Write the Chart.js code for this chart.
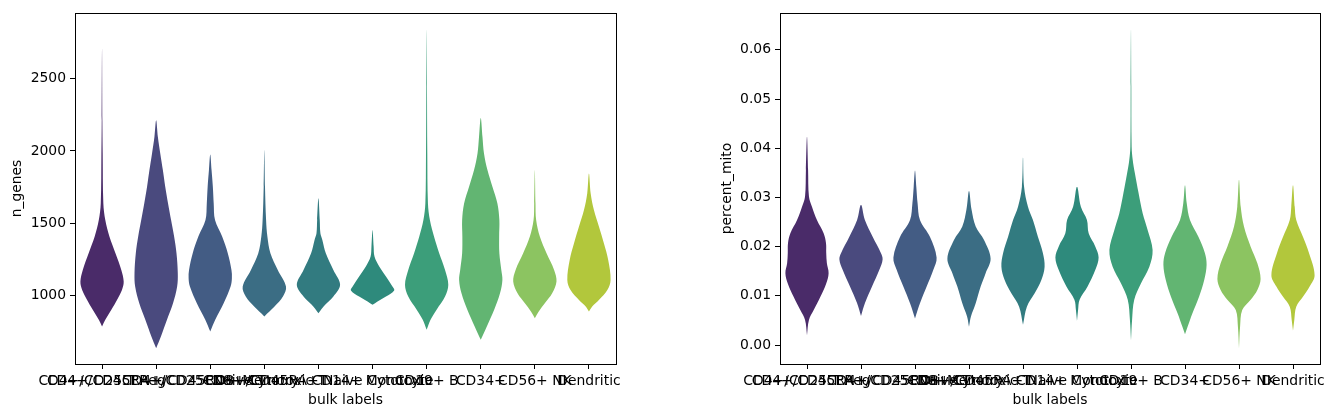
<!DOCTYPE html>
<html lang="en">
<head>
<meta charset="UTF-8">
<title>bulk labels - n_genes / percent_mito</title>
<script src="https://cdn.jsdelivr.net/npm/chart.js"></script>
<style>
  html, body { margin: 0; padding: 0; background: #fff; }
  body { width: 1335px; height: 417px; position: relative; overflow: hidden; }
  .panel { position: absolute; top: 0; height: 417px; }
  #leftPanel { left: 0; width: 640px; }
  #rightPanel { left: 700px; width: 635px; }
</style>
</head>
<body>
<div class="panel" id="leftPanel"><canvas id="genesChart"></canvas></div>
<div class="panel" id="rightPanel"><canvas id="mitoChart"></canvas></div>

<script>
const bulkLabels = [
    "CD4+/CD25 T Reg", "CD4+/CD45RA+/CD25- Naive T", "CD4+/CD45RO+ Memory",
    "CD8+ Cytotoxic T", "CD8+/CD45RA+ Naive Cytotoxic", "CD14+ Monocyte",
    "CD19+ B", "CD34+", "CD56+ NK", "Dendritic"
];
const violinColors = ["#4a2b69", "#4a4a7e", "#435c84", "#3b6d84", "#327b80",
                      "#2e8a7c", "#3c9e7a", "#62b572", "#8cc461", "#b2c73c"];

// n_genes: levels from bottom to top, and relative half-width at each level
const genesLevels = [
    [789, 835, 904, 972, 1041, 1099, 1179, 1294, 1409, 1523, 1638, 1983, 2212, 2706],
    [639, 720, 835, 949, 1064, 1156, 1294, 1409, 1523, 1638, 1753, 1868, 1983, 2097, 2212],
    [755, 835, 949, 1064, 1122, 1179, 1294, 1409, 1523, 1638, 1753, 1868, 1976],
    [858, 926, 995, 1064, 1179, 1294, 1409, 1523, 1753, 2006],
    [881, 938, 995, 1076, 1179, 1294, 1386, 1432, 1523, 1673],
    [938, 961, 995, 1037, 1064, 1133, 1202, 1271, 1340, 1455],
    [766, 835, 904, 995, 1076, 1179, 1294, 1409, 1523, 1638, 1983, 2442, 2837],
    [697, 789, 904, 1018, 1110, 1179, 1294, 1409, 1523, 1638, 1753, 1868, 1983, 2097, 2228],
    [846, 892, 949, 1018, 1099, 1179, 1294, 1409, 1523, 1638, 1868],
    [892, 927, 972, 1041, 1110, 1248, 1363, 1478, 1592, 1707, 1845]
];
const genesWidths = [
    [0, .15, .43, .69, .92, 1, .89, .62, .34, .15, .06, .03, .015, 0],
    [0, .22, .5, .78, .97, 1, .94, .83, .69, .55, .42, .31, .19, .08, 0],
    [0, .23, .62, .94, 1, .98, .81, .55, .22, .16, .12, .06, 0],
    [0, .47, .86, 1, .62, .28, .14, .08, .03, 0],
    [0, .31, .69, 1, .69, .34, .18, .09, .06, 0],
    [0, .23, .62, 1, .92, .62, .31, .09, .05, 0],
    [0, .18, .46, .85, 1, .85, .58, .34, .15, .06, .03, .015, 0],
    [0, .28, .62, .89, 1, .95, .86, .85, .86, .77, .54, .31, .15, .08, 0],
    [0, .18, .46, .8, 1, .89, .54, .23, .06, .03, 0],
    [0, .15, .46, .85, 1, .89, .69, .46, .23, .08, 0]
];

// percent_mito
const mitoLevels = [
    [0.0020, 0.0051, 0.0071, 0.0098, 0.0125, 0.0146, 0.0166, 0.0187, 0.0207, 0.0227, 0.0254, 0.0281, 0.0302, 0.0356, 0.0424],
    [0.0059, 0.0085, 0.0119, 0.0153, 0.0174, 0.0187, 0.0220, 0.0254, 0.0285],
    [0.0054, 0.0085, 0.0119, 0.0153, 0.0178, 0.0220, 0.0254, 0.0288, 0.0322, 0.0355],
    [0.0037, 0.0058, 0.0085, 0.0119, 0.0146, 0.0176, 0.0214, 0.0241, 0.0275, 0.0313],
    [0.0041, 0.0078, 0.0105, 0.0132, 0.0159, 0.0187, 0.0220, 0.0254, 0.0281, 0.0322, 0.0381],
    [0.0049, 0.0071, 0.0092, 0.0119, 0.0153, 0.0178, 0.0200, 0.0227, 0.0254, 0.0281, 0.0322],
    [0.0009, 0.0051, 0.0092, 0.0125, 0.0159, 0.0193, 0.0234, 0.0268, 0.0309, 0.0349, 0.0376, 0.0403, 0.0526, 0.0642],
    [0.0022, 0.0037, 0.0064, 0.0098, 0.0132, 0.0163, 0.0187, 0.0220, 0.0254, 0.0288, 0.0325],
    [-0.0007, 0.0037, 0.0071, 0.0092, 0.0112, 0.0134, 0.0166, 0.0200, 0.0241, 0.0281, 0.0336],
    [0.0029, 0.0051, 0.0078, 0.0098, 0.0119, 0.0142, 0.0187, 0.0220, 0.0254, 0.0281, 0.0325]
];
const mitoWidths = [
    [0, .09, .31, .62, .89, 1, .92, .89, .88, .77, .46, .23, .09, .05, 0],
    [0, .18, .51, .85, 1, .92, .54, .18, 0],
    [0, .23, .54, .85, 1, .69, .23, .12, .06, 0],
    [0, .09, .31, .54, .77, 1, .69, .31, .12, 0],
    [0, .18, .54, .85, 1, .92, .69, .46, .23, .05, 0],
    [0, .05, .12, .49, .85, 1, .85, .54, .46, .18, 0],
    [0, .05, .15, .46, .85, 1, .77, .54, .35, .18, .08, .03, .015, 0],
    [0, .12, .34, .65, .89, 1, .92, .62, .23, .08, 0],
    [0, .05, .15, .54, .85, 1, .85, .54, .23, .08, 0],
    [0, .06, .15, .46, .77, 1, .74, .46, .15, .08, 0]
];

const genesTicks = [1000, 1500, 2000, 2500];
const mitoTicks = [0, 0.01, 0.02, 0.03, 0.04, 0.05, 0.06];

Chart.defaults.font.family = "'DejaVu Sans', sans-serif";
Chart.defaults.font.size = 13.9;
Chart.defaults.color = "#000";

const HALF_WIDTH = 0.4;

// left edge going up, right edge coming back down
function violinOutline(i, levels, widths) {
    const left = levels.map((v, k) => ({ x: i - HALF_WIDTH * widths[k], y: v }));
    const right = levels.map((v, k) => ({ x: i + HALF_WIDTH * widths[k], y: v })).reverse();
    return left.concat(right.slice(1));
}

const axesFrame = {
    id: "axesFrame",
    afterDraw(chart) {
        const { ctx, chartArea: a } = chart;
        ctx.save();
        ctx.strokeStyle = "#000";
        ctx.lineWidth = 1;
        ctx.strokeRect(Math.round(a.left) + 0.5, Math.round(a.top) + 0.5,
                       Math.round(a.right - a.left), Math.round(a.bottom - a.top));
        ctx.restore();
    }
};

function makeViolinChart(canvasId, levels, widths, yTicks, yMin, yMax, yTitle, fmt, yWidth, titlePad, padRight) {
    const datasets = bulkLabels.map((name, i) => ({
        label: name,
        data: violinOutline(i, levels[i], widths[i]),
        backgroundColor: violinColors[i],
        borderColor: violinColors[i],
        borderWidth: 0,
        fill: "shape",
        pointRadius: 0,
        tension: 0.35
    }));

    new Chart(document.getElementById(canvasId), {
        type: "line",
        data: { datasets },
        options: {
            responsive: true,
            maintainAspectRatio: false,
            animation: false,
            layout: { padding: { top: 13, right: padRight, bottom: 0, left: 0 } },
            plugins: { legend: { display: false }, tooltip: { enabled: false } },
            scales: {
                x: {
                    type: "linear",
                    min: -0.5,
                    max: 9.5,
                    afterBuildTicks: s => { s.ticks = bulkLabels.map((_, i) => ({ value: i })); },
                    afterFit: s => { s.height = 53; s.paddingLeft = 0; s.paddingRight = 0; },
                    ticks: {
                        autoSkip: false, maxRotation: 0, minRotation: 0, padding: 4,
                        callback: v => bulkLabels[v]
                    },
                    grid: { drawOnChartArea: false, tickLength: 5, tickColor: "#000" },
                    border: { display: false },
                    title: { display: true, text: "bulk labels", padding: { top: 0, bottom: 8 } }
                },
                y: {
                    min: yMin,
                    max: yMax,
                    afterBuildTicks: s => { s.ticks = yTicks.map(v => ({ value: v })); },
                    afterFit: s => { s.width = yWidth; s.paddingTop = 0; s.paddingBottom = 0; },
                    ticks: { padding: 4, callback: fmt },
                    grid: { drawOnChartArea: false, tickLength: 5, tickColor: "#000" },
                    border: { display: false },
                    title: { display: true, text: yTitle, padding: { top: titlePad, bottom: 0 } }
                }
            }
        },
        plugins: [axesFrame]
    });
}

makeViolinChart("genesChart", genesLevels, genesWidths, genesTicks, 530, 2952,
                "n_genes", v => String(v), 75, 9, 24);
makeViolinChart("mitoChart", mitoLevels, mitoWidths, mitoTicks, -0.00386, 0.0675,
                "percent_mito", v => v.toFixed(2), 80, 19, 15);
</script>
</body>
</html>
